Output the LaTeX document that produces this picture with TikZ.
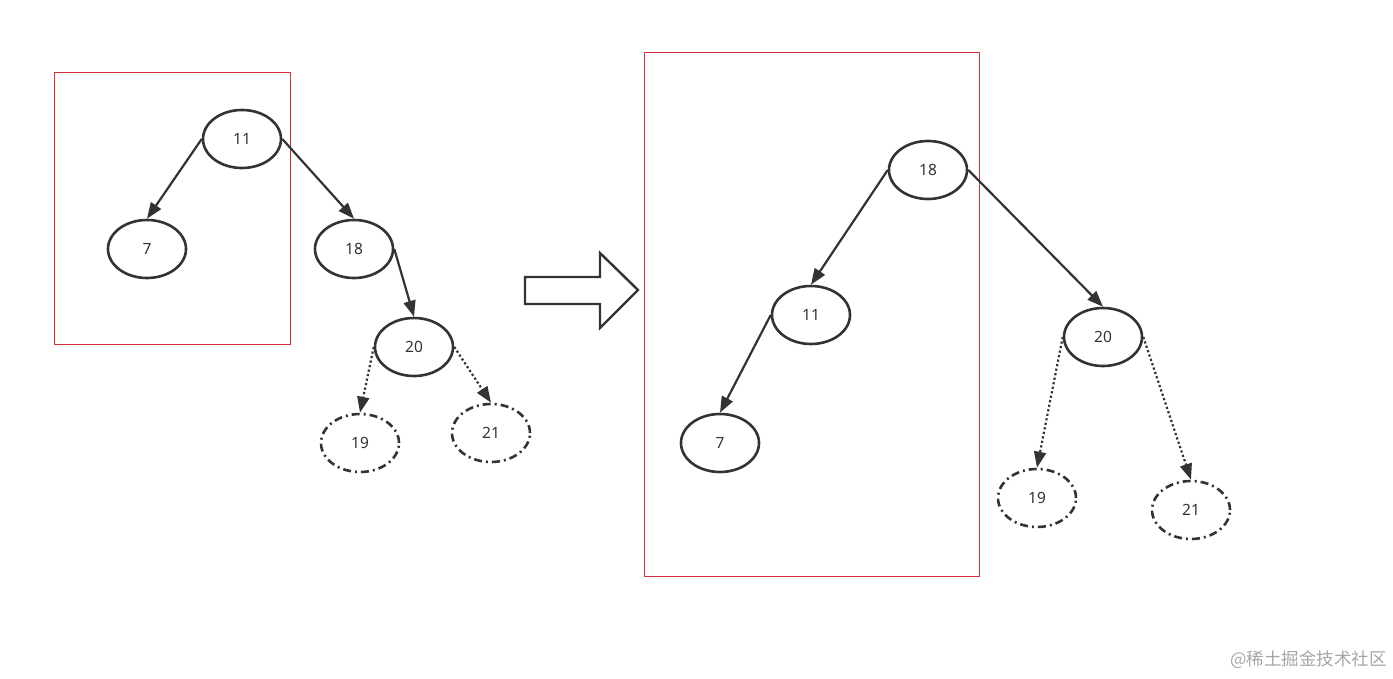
\documentclass[tikz,border=0pt]{standalone}
\usepackage{fontspec}
\setmainfont{Noto Sans}
\newfontfamily\cjk{Noto Sans CJK SC}
\usetikzlibrary{shapes.geometric,arrows.meta}
\definecolor{ink}{RGB}{51,51,51}
\definecolor{boxred}{RGB}{214,48,60}

\begin{document}
\begin{tikzpicture}[x=1pt,y=-1pt,
    >={Triangle[length=16pt,width=12pt]},
    key/.style={ellipse,draw=ink,line width=2.6pt,minimum width=78pt,minimum height=58pt,inner sep=0pt,font=\fontsize{15.5}{17}\selectfont,text=ink},
    ghost/.style={key,dash pattern=on 8pt off 4pt on 2pt off 4pt},
    link/.style={->,draw=ink,line width=2.2pt},
    maybe/.style={link,dash pattern=on 2.2pt off 2.4pt},
    frame/.style={draw=boxred,line width=1pt}]
  \useasboundingbox (0,0) rectangle (1393,678);
  % rotated part, before
  \draw[frame] (54,72) rectangle (290,344);
  \node[key] (a11) at (242,139) {11};
  \node[key] (a7) at (147,249) {7};
  \node[key] (a18) at (354,249) {18};
  \node[key] (a20) at (414,347) {20};
  \node[ghost] (a19) at (360,443) {19};
  \node[ghost] (a21) at (491,433) {21};
  \draw[link] (a11.west) -- (a7.north);
  \draw[link] (a11.east) -- (a18.north);
  \draw[link] (a18.east) -- (a20.north);
  \draw[maybe] (a20.west) -- (a19.north);
  \draw[maybe] (a20.east) -- (a21.north);
  % big arrow
  \draw[draw=ink,line width=2.4pt,line join=miter]
    (525,277) -- (600,277) -- (600,253) -- (638,290) -- (600,328) -- (600,304) -- (525,304) -- cycle;
  % rotated part, after
  \draw[frame] (644,52) rectangle (979,576);
  \node[key] (b18) at (928,170) {18};
  \node[key] (b11) at (811,315) {11};
  \node[key] (b7) at (720,443) {7};
  \node[key] (b20) at (1103,337) {20};
  \node[ghost] (b19) at (1037,498) {19};
  \node[ghost] (b21) at (1191,510) {21};
  \draw[link] (b18.west) -- (b11.north);
  \draw[link] (b18.east) -- (b20.north);
  \draw[link] (b11.west) -- (b7.north);
  \draw[maybe] (b20.west) -- (b19.north);
  \draw[maybe] (b20.east) -- (b21.north);
  % watermark
  \node[text=black!35,font=\cjk\fontsize{17.5}{19}\selectfont,anchor=east,inner sep=0pt] (mark) at (1387,660) {@稀土掘金技术社区};
\end{tikzpicture}
\end{document}
